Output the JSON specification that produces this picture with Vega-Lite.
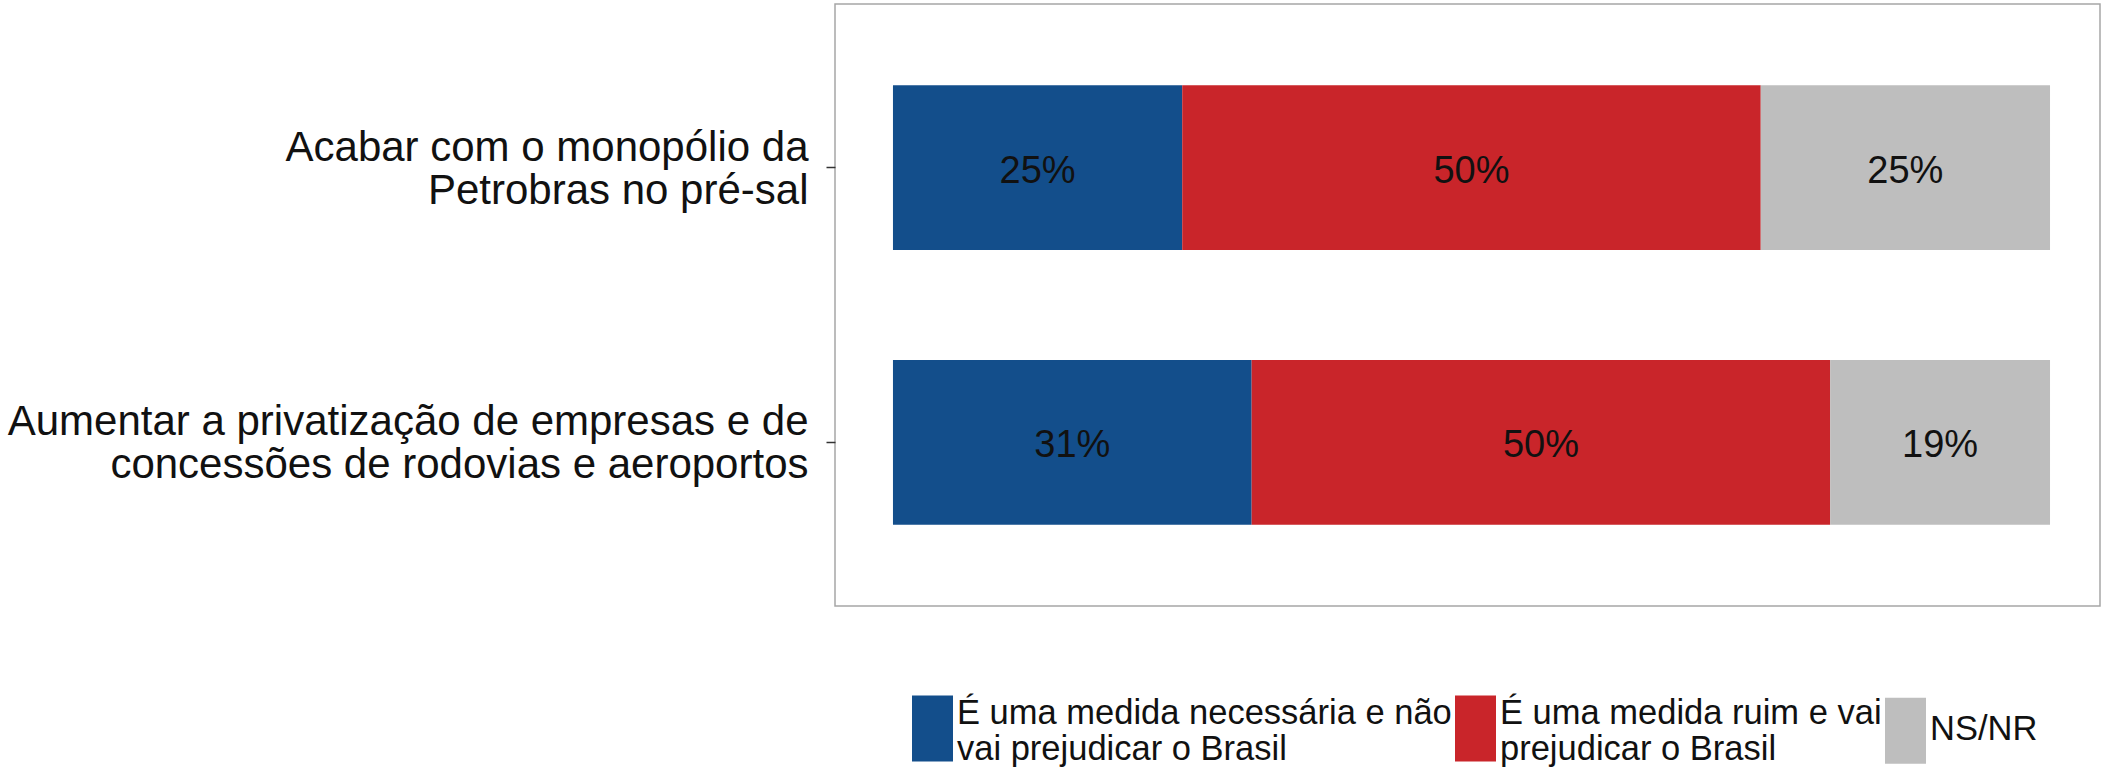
{
  "$schema": "https://vega.github.io/schema/vega-lite/v6.json",
  "autosize": {"type": "none"},
  "width": 1265,
  "height": 602,
  "padding": {"left": 835, "top": 4, "right": 5, "bottom": 164},
  "background": "white",
  "config": {
    "font": "Liberation Sans",
    "view": {"stroke": "#A6A6A6", "strokeWidth": 1.5}
  },
  "data": {
    "values": [
      {"item": "Acabar com o monopólio da|Petrobras no pré-sal", "resposta": "É uma medida necessária e não|vai prejudicar o Brasil", "order": 1, "value": 0.25},
      {"item": "Acabar com o monopólio da|Petrobras no pré-sal", "resposta": "É uma medida ruim e vai|prejudicar o Brasil", "order": 2, "value": 0.50},
      {"item": "Acabar com o monopólio da|Petrobras no pré-sal", "resposta": "NS/NR", "order": 3, "value": 0.25},
      {"item": "Aumentar a privatização de empresas e de|concessões de rodovias e aeroportos", "resposta": "É uma medida necessária e não|vai prejudicar o Brasil", "order": 1, "value": 0.31},
      {"item": "Aumentar a privatização de empresas e de|concessões de rodovias e aeroportos", "resposta": "É uma medida ruim e vai|prejudicar o Brasil", "order": 2, "value": 0.50},
      {"item": "Aumentar a privatização de empresas e de|concessões de rodovias e aeroportos", "resposta": "NS/NR", "order": 3, "value": 0.19}
    ]
  },
  "transform": [
    {"stack": "value", "groupby": ["item"], "sort": [{"field": "order", "order": "ascending"}], "as": ["x0", "x1"]}
  ],
  "encoding": {
    "y": {
      "field": "item",
      "type": "nominal",
      "sort": null,
      "scale": {"paddingInner": 0.4, "paddingOuter": 0.296},
      "axis": {
        "title": null,
        "domain": false,
        "ticks": true,
        "tickSize": 9,
        "tickWidth": 1.5,
        "tickColor": "#333333",
        "labelFontSize": 42,
        "labelLineHeight": 43,
        "labelColor": "#111111",
        "labelPadding": 18,
        "labelOffset": -20,
        "labelLimit": 0,
        "labelExpr": "split(datum.label, '|')"
      }
    }
  },
  "layer": [
    {
      "mark": {"type": "bar"},
      "encoding": {
        "x": {"field": "x0", "type": "quantitative", "scale": {"domain": [-0.0501, 1.0432], "nice": false, "zero": false}, "axis": null},
        "x2": {"field": "x1"},
        "color": {
          "field": "resposta",
          "type": "nominal",
          "scale": {
            "domain": ["É uma medida necessária e não|vai prejudicar o Brasil", "É uma medida ruim e vai|prejudicar o Brasil", "NS/NR"],
            "range": ["#134E8B", "#C9252A", "#BEBEBE"]
          },
          "legend": {
            "title": null,
            "orient": "none",
            "legendX": 77,
            "legendY": 689,
            "direction": "horizontal",
            "columns": 3,
            "columnPadding": 3,
            "symbolType": "M-1,-0.88H1V2.34H-1Z",
            "symbolSize": 1681,
            "symbolStrokeWidth": 0,
            "symbolOpacity": 1,
            "labelFontSize": 34.5,
            "labelColor": "#111111",
            "labelLimit": 0,
            "labelOffset": 4,
            "labelExpr": "split(datum.label, '|')",
            "labelFont": "Liberation Sans",
            "padding": 0,
            "encode": {"labels": {"update": {"lineHeight": {"value": 36}, "dy": {"signal": "indexof(datum.label, '|') < 0 ? 14 : 0"}}}}
          }
        }
      }
    },
    {
      "mark": {"type": "text", "fontSize": 38, "color": "#111111", "dy": 4, "dx": {"expr": "(scale('x', 0) - scale('x', datum.value)) / 2"}},
      "encoding": {
        "x": {"field": "x1", "type": "quantitative", "scale": {"domain": [-0.0501, 1.0432], "nice": false, "zero": false}, "axis": null},
        "text": {"field": "value", "type": "quantitative", "format": ".0%"}
      }
    }
  ]
}
